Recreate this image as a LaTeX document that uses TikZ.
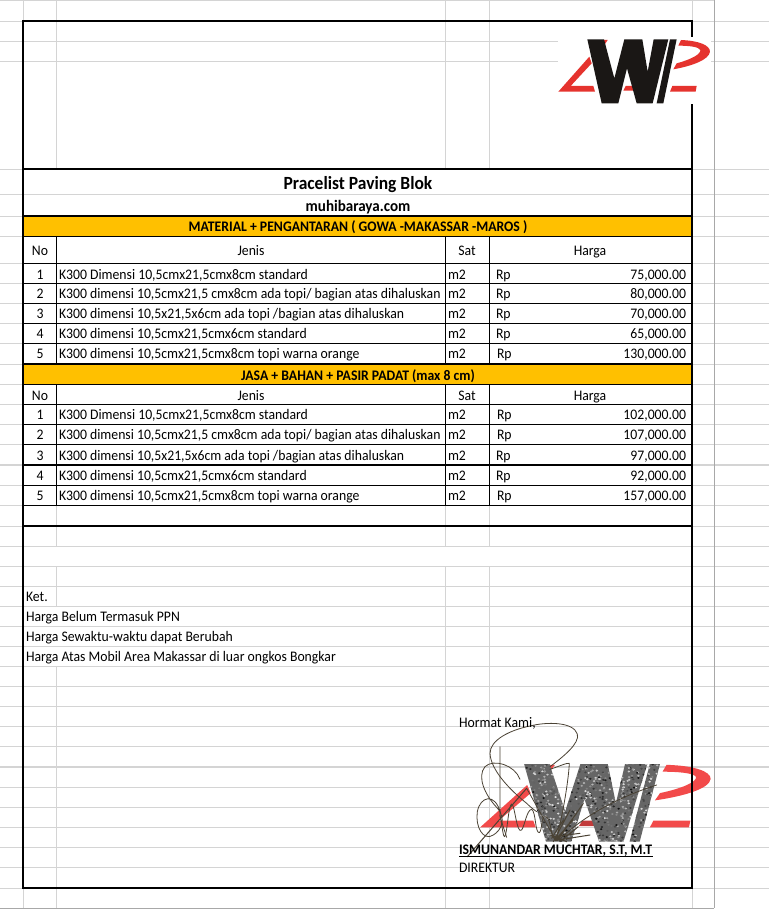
\documentclass[tikz,border=0pt]{standalone}
\usepackage{fontspec}
\setmainfont[FakeStretch=0.94]{Carlito}
\definecolor{gridc}{HTML}{D4D4D4}
\definecolor{edgec}{HTML}{A8A8A8}
\definecolor{band}{HTML}{FFC000}
\definecolor{logored}{HTML}{E5332E}
\definecolor{stampred}{HTML}{F24A4A}
\definecolor{stampgray}{HTML}{666666}
\definecolor{logoblack}{HTML}{1A1715}
\definecolor{inkc}{HTML}{4A4234}
\newcommand{\lgW}{(97,28) -- (147,28) -- (178,145) -- (208,28) -- (262,28) -- (278,125) -- (296,28) -- (340,28) -- (293,220) -- (245,220) -- (216,115) -- (190,220) -- (140,220) -- cycle}
\newcommand{\lgStripe}{(345,28) -- (365,28) -- (325,220) -- (305,220) -- cycle}
\newcommand{\lgSlash}{(10,185) -- (103,80) -- (110,100) -- (47,168) -- (115,168) -- (120,185) -- cycle}
\newcommand{\lgTop}{(145,30) -- (158,30) -- (150,42) -- cycle}
\newcommand{\lgMid}{(205,182) -- (212,168) -- (233,168) -- (238,182) -- cycle}
\newcommand{\lgDash}{(345,185) -- (352,168) -- (425,168) -- (422,185) -- cycle}
\newcommand{\lgHook}{(378,30) .. controls (430,32) and (465,45) .. (465,65) .. controls (462,90) and (410,108) .. (355,118) -- (365,100) .. controls (410,88) and (438,72) .. (436,60) .. controls (432,50) and (400,47) .. (370,47) -- cycle}
\tikzset{
  grid line/.style={draw=gridc,line width=0.9pt},
  edge line/.style={draw=edgec,line width=1pt},
  thick rule/.style={draw=black,line width=2pt},
  thin rule/.style={draw=black,line width=1pt},
  mid rule/.style={draw=black,line width=1.5pt},
  cell/.style={inner sep=0pt,outer sep=0pt,font=\fontsize{14.6}{16}\selectfont,text=black},
  lft/.style={cell,anchor=base west},
  rgt/.style={cell,anchor=base east},
  ctr/.style={cell,anchor=base},
  boldc/.style={cell,anchor=base,font=\fontsize{14.6}{16}\selectfont\bfseries},
  ink/.style={draw=inkc,line width=0.8pt,line cap=round,line join=round},
}
\begin{document}
\begin{tikzpicture}[x=1pt,y=-1pt]
\useasboundingbox (0,0) rectangle (769,910);
\fill[white] (0,0) rectangle (769,910);
% sheet grid
\foreach \y in {21,41,61,169,194,216,236,263,283,303,323,343,364,384,404,424,444,485,505,526,546,566,586,606,626,646,666,686,706,726,746,787,807,827,847,867,888}
  \draw[grid line] (0,\y) -- (769,\y);
\foreach \y in {465,767}
  \draw[grid line,line width=1.4pt] (0,\y) -- (769,\y);
\draw[grid line] (0,0.5) -- (714,0.5);
\draw[edge line] (0,908) -- (714,908);
\foreach \x in {23,56,445,489,692}
  \draw[grid line] (\x,0) -- (\x,21);
\foreach \x in {445,489}
  \draw[grid line] (\x,21) -- (\x,169) (\x,505) -- (\x,546) (\x,566) -- (\x,908);
\draw[grid line] (56,21) -- (56,169) (56,505) -- (56,546) (56,566) -- (56,606) (56,666) -- (56,908);
\draw[grid line] (23,888) -- (23,908) (692,888) -- (692,908);
\draw[edge line] (714,0) -- (714,908);
% bands
\fill[band] (23,216) rectangle (692,236);
\fill[band] (23,364) rectangle (692,384);
% stamped logo
\begin{scope}[shift={(474.93,752.7)},x=0.507pt,y=-0.404pt]
  \fill[stampred] \lgSlash;
  \fill[stampred] \lgTop;
  \fill[stampred!80!black] \lgMid;
  \fill[stampred] \lgDash;
  \fill[stampred] \lgHook;
  \fill[stampgray] \lgW;
  \fill[stampgray] \lgStripe;
  \begin{scope}
    \clip \lgW \lgStripe;
    \pgfmathsetseed{7}
    \foreach \i in {1,...,800}{
      \pgfmathsetmacro{\px}{97+rnd*270}
      \pgfmathsetmacro{\py}{28+rnd*192}
      \pgfmathsetmacro{\pk}{rnd*85+5}
      \fill[white!\pk!black] (\px,\py) circle[radius=2.6];
    }
  \end{scope}
\end{scope}
% table rules
\foreach \y in {236,263,283,303,323,343,384,404,424,444,485,505}
  \draw[thin rule] (23,\y) -- (692,\y);
\draw[mid rule] (23,465) -- (692,465);
\foreach \y in {169,216,364,526}
  \draw[thick rule] (23,\y) -- (692,\y);
\foreach \x in {56,445,489}
  \draw[thin rule] (\x,236) -- (\x,364) (\x,384) -- (\x,505);
\draw[thick rule,line cap=rect] (23,21) rectangle (692,888);
% top logo with its white ground
\fill[white] (558,37) rectangle (711,104);
\begin{scope}[shift={(555,30)},x=0.3333pt,y=-0.3333pt]
  \fill[logored] \lgSlash;
  \fill[logored] \lgTop;
  \fill[logored] \lgMid;
  \fill[logored] \lgDash;
  \fill[logored] \lgHook;
  \fill[logoblack] \lgW;
  \fill[logoblack] \lgStripe;
\end{scope}
% signature
\begin{scope}[shift={(470,720)},x=0.3333pt,y=-0.3333pt]
  \draw[ink] (240,140) .. controls (280,110) and (330,70) .. (322,42) .. controls (310,5) and (230,5) .. (180,18) .. controls (120,30) and (60,60) .. (60,100) .. controls (62,150) and (120,210) .. (170,250) .. controls (180,260) and (190,268) .. (200,275);
  \draw[ink] (150,178) .. controls (135,135) and (70,115) .. (45,140) .. controls (20,170) and (45,225) .. (80,262) .. controls (110,295) and (95,330) .. (70,345) .. controls (40,365) and (15,320) .. (22,275) .. controls (30,230) and (75,215) .. (92,280);
  \draw[ink] (90,80) -- (90,290) -- (110,352);
  \draw[ink,line width=1pt] (-8,410) -- (170,205);
  \draw[ink] (90,285) .. controls (98,330) and (100,352) .. (104,350) .. controls (112,340) and (115,255) .. (125,252) .. controls (135,255) and (140,345) .. (155,330) .. controls (165,315) and (170,270) .. (185,268) .. controls (198,275) and (195,340) .. (208,338) .. controls (218,330) and (212,285) .. (228,290) .. controls (245,300) and (240,350) .. (258,362);
  \draw[ink] (258,362) .. controls (275,300) and (295,190) .. (298,130) .. controls (290,128) and (265,140) .. (240,148);
  \draw[ink] (170,205) -- (258,362);
  \draw[ink,line width=1pt] (250,365) -- (300,270) (262,362) -- (340,250) (255,360) -- (310,300) (265,360) -- (360,345) (245,355) -- (280,300) (270,365) -- (325,320) (240,345) -- (290,365) (250,350) -- (330,340) (258,362) -- (320,280);
  \draw[ink] (268,358) .. controls (330,300) and (420,240) .. (560,195);
\end{scope}
% titles
\node[cell,anchor=base,font=\fontsize{18.6}{20}\selectfont\bfseries] (title) at (358,189) {Pracelist Paving Blok};
\node[boldc,font=\fontsize{16}{18}\selectfont\bfseries] (web) at (358,211) {muhibaraya.com};
\node[boldc] (band1) at (358,231.5) {MATERIAL + PENGANTARAN ( GOWA -MAKASSAR -MAROS )};
\node[boldc] (band2) at (358,380) {JASA + BAHAN + PASIR PADAT (max 8 cm)};
% table heads
\foreach \t/\y in {a/255,b/400}{
  \node[ctr] (no\t) at (40,\y) {No};
  \node[ctr] (jenis\t) at (251,\y) {Jenis};
  \node[ctr] (sat\t) at (467,\y) {Sat};
  \node[ctr] (harga\t) at (590,\y) {Harga};
}
% table 1
\foreach \i/\y/\rx/\desc/\amt in {
  1/279/496/{K300 Dimensi 10,5cmx21,5cmx8cm standard}/{75,000.00},
  2/298.5/496/{K300 dimensi 10,5cmx21,5 cmx8cm ada topi/ bagian atas dihaluskan}/{80,000.00},
  3/318.5/496/{K300 dimensi 10,5x21,5x6cm ada topi /bagian atas dihaluskan}/{70,000.00},
  4/338.5/496/{K300 dimensi 10,5cmx21,5cmx6cm standard}/{65,000.00},
  5/358.5/497/{K300 dimensi 10,5cmx21,5cmx8cm topi warna orange}/{130,000.00}}{
  \node[ctr] (an\i) at (40,\y) {\i};
  \node[lft] (ad\i) at (59,\y) {\desc};
  \node[lft] (as\i) at (448,\y) {m2};
  \node[lft] (ar\i) at (\rx,\y) {Rp};
  \node[rgt] (ah\i) at (686,\y) {\amt};
}
% table 2
\foreach \i/\y/\rx/\desc/\amt in {
  1/419.5/497/{K300 Dimensi 10,5cmx21,5cmx8cm standard}/{102,000.00},
  2/439.5/497/{K300 dimensi 10,5cmx21,5 cmx8cm ada topi/ bagian atas dihaluskan}/{107,000.00},
  3/460/496/{K300 dimensi 10,5x21,5x6cm ada topi /bagian atas dihaluskan}/{97,000.00},
  4/480.5/496/{K300 dimensi 10,5cmx21,5cmx6cm standard}/{92,000.00},
  5/500.5/497/{K300 dimensi 10,5cmx21,5cmx8cm topi warna orange}/{157,000.00}}{
  \node[ctr] (bn\i) at (40,\y) {\i};
  \node[lft] (bd\i) at (59,\y) {\desc};
  \node[lft] (bs\i) at (448,\y) {m2};
  \node[lft] (br\i) at (\rx,\y) {Rp};
  \node[rgt] (bh\i) at (686,\y) {\amt};
}
% notes
\node[lft] (ket) at (26,601.5) {Ket.};
\node[lft] (n1) at (26,621.5) {Harga Belum Termasuk PPN};
\node[lft] (n2) at (26,641.5) {Harga Sewaktu-waktu dapat Berubah};
\node[lft] (n3) at (26,661.5) {Harga Atas Mobil Area Makassar di luar ongkos Bongkar};
\node[lft] (hormat) at (459,727) {Hormat Kami,};
\node[lft,font=\fontsize{14.6}{16}\selectfont\bfseries] (nama) at (459,854) {ISMUNANDAR MUCHTAR, S.T, M.T};
\draw[black,line width=1pt] (459,856) -- (653,856);
\node[lft] (jabatan) at (459,872) {DIREKTUR};
\end{tikzpicture}
\end{document}
